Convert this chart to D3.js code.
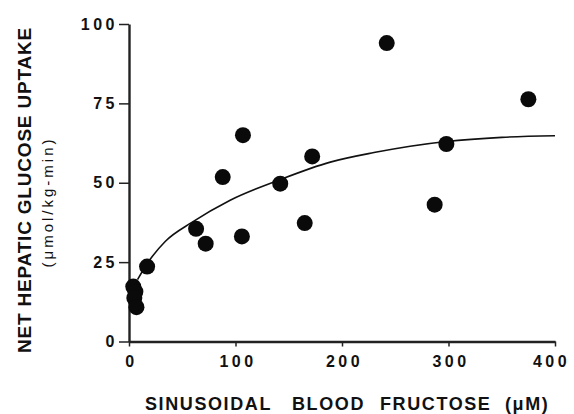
<!DOCTYPE html>
<html>
<head>
<meta charset="utf-8">
<script src="https://cdn.jsdelivr.net/npm/d3@7"></script>
<style>
  body { margin: 0; background: #fff; }
  svg { display: block; }
  text { font-family: "Liberation Sans", Arial, sans-serif; fill: #111; }
</style>
</head>
<body>
<div id="chart"></div>
<script>
// data
var fructose = [4, 6, 5, 7, 17, 63, 72, 88, 106, 107, 142, 165, 172, 242, 287, 298, 375];
var uptake   = [17.3, 15.7, 13.7, 10.8, 23.6, 35.5, 30.8, 51.8, 33.1, 65, 49.7, 37.3, 58.3, 94, 43.1, 62.2, 76.3];

// fitted curve, read as points
var curveX = [8, 17, 34, 59, 95, 142, 189, 230, 264, 298, 350, 400];
var curveY = [19.5, 24.5, 31.5, 37.5, 44.5, 51, 56.5, 59.5, 61.5, 63, 64.3, 64.8];

var xTicks = [0, 100, 200, 300, 400];
var yTicks = [0, 25, 50, 75, 100];

var width = 574, height = 414;

var svg = d3.select("#chart").append("svg")
  .attr("width", width)
  .attr("height", height);

// scales
var x = d3.scaleLinear().domain([0, 400]).range([129, 555]);
var y = d3.scaleLinear().domain([0, 100]).range([341.5, 24]);

// x axis
var xAxis = svg.append("g")
  .attr("transform", "translate(0," + y(0) + ")")
  .call(d3.axisBottom(x).tickValues(xTicks).tickSize(5).tickPadding(9).tickSizeOuter(0));
xAxis.select(".domain").attr("stroke", "#222").attr("stroke-width", 2.4);
xAxis.selectAll(".tick line").attr("stroke", "#222").attr("stroke-width", 1.5);
xAxis.selectAll(".tick text")
  // last label sits a little left of its tick, as in the original
  .attr("dx", function(d, i){ return i == xTicks.length - 1 ? -4 : 2; })
  .style("font-size", "16px")
  .style("font-weight", "bold")
  .style("letter-spacing", "3.5px");

// y axis
var yAxis = svg.append("g")
  .attr("transform", "translate(" + x(0) + ",0)")
  .call(d3.axisLeft(y).tickValues(yTicks).tickSize(10).tickPadding(1).tickSizeOuter(0));
yAxis.select(".domain").attr("stroke", "#222").attr("stroke-width", 2.4);
yAxis.selectAll(".tick line").attr("stroke", "#222").attr("stroke-width", 1.5);
yAxis.selectAll(".tick text")
  .style("font-size", "16px")
  .style("font-weight", "bold")
  .style("letter-spacing", "3.5px");

// fitted curve
var line = d3.line()
  .x(function(d){ return x(d[0]); })
  .y(function(d){ return y(d[1]); })
  .curve(d3.curveMonotoneX);

svg.append("path")
  .datum(d3.zip(curveX, curveY))
  .attr("d", line)
  .attr("fill", "none")
  .attr("stroke", "#111")
  .attr("stroke-width", 1.6);

// points
svg.selectAll(".dot")
  .data(d3.zip(fructose, uptake))
  .enter().append("circle")
  .attr("class", "dot")
  .attr("cx", function(d){ return x(d[0]); })
  .attr("cy", function(d){ return y(d[1]); })
  .attr("r", 8)
  .attr("fill", "#0a0a0a");

// axis titles
svg.append("text")
  .attr("transform", "translate(31,190) rotate(-90)")
  .attr("text-anchor", "middle")
  .style("font-size", "19px")
  .style("font-weight", "bold")
  .style("letter-spacing", "0.8px")
  .text("NET HEPATIC GLUCOSE UPTAKE");

svg.append("text")
  .attr("transform", "translate(53,202) rotate(-90)")
  .attr("text-anchor", "middle")
  .style("font-size", "15px")
  .style("letter-spacing", "3px")
  .text("(μmol/kg-min)");

// x title words, spaced out like the original
var xWords = ["SINUSOIDAL", "BLOOD", "FRUCTOSE", "(μM)"];
var xWordPos = [145, 292, 380, 505];
svg.selectAll(".xword")
  .data(xWords)
  .enter().append("text")
  .attr("class", "xword")
  .attr("x", function(d, i){ return xWordPos[i]; })
  .attr("y", 410)
  .style("font-size", "18px")
  .style("font-weight", "bold")
  .style("letter-spacing", "1.6px")
  .text(function(d){ return d; });
</script>
</body>
</html>
